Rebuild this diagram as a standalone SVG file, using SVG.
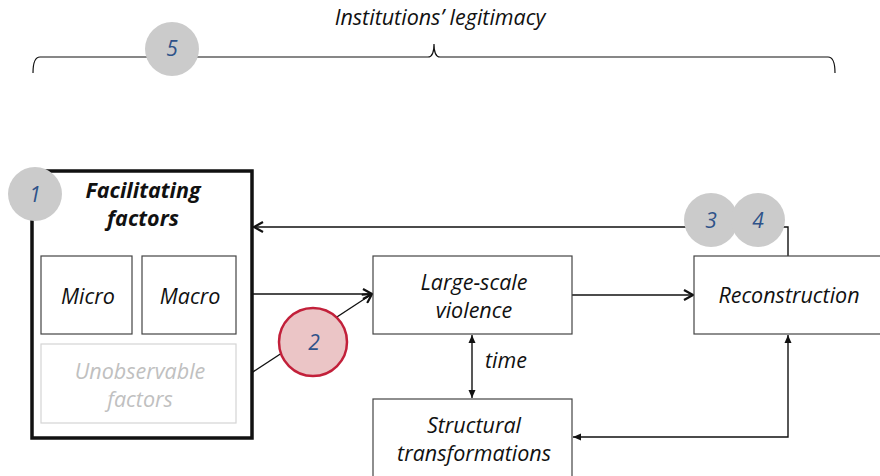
<svg xmlns="http://www.w3.org/2000/svg" width="880" height="476" viewBox="0 0 880 476">
<defs>
<style>
text{font-family:"Open Sans",Lato,"DejaVu Sans",sans-serif;font-style:italic;font-weight:400;text-anchor:middle;fill:#111}
.lbl{font-size:21.5px}
.num{font-size:21px;fill:#2e5289}
.gray{fill:#c0c0c0}
.bold{font-weight:bold}
.box{fill:#fff;stroke:#444;stroke-width:1.2}
.conn{fill:none;stroke:#111;stroke-width:1.4}
.badge{fill:#cbcbcb}
</style>
<marker id="open" viewBox="0 0 12 12" refX="11" refY="6" markerWidth="12" markerHeight="12" markerUnits="userSpaceOnUse" orient="auto">
<path d="M2,1 L11,6 L2,11" fill="none" stroke="#111" stroke-width="2.2"/>
</marker>
<marker id="fill" viewBox="0 0 8 8" refX="8" refY="4" markerWidth="8" markerHeight="8" markerUnits="userSpaceOnUse" orient="auto-start-reverse">
<path d="M0,0.5 L8,4 L0,7.5 Z" fill="#111"/>
</marker>
</defs>
<rect width="880" height="476" fill="#fff"/>

<g id="legitimacy">
<text class="lbl" x="440" y="25">Institutions’ legitimacy</text>
<path d="M33,73 Q33,57 40,57 L428,57 Q434,57 434,44 Q434,57 440,57 L828,57 Q835,57 835,73" fill="none" stroke="#111" stroke-width="1.2"/>
<circle class="badge" cx="172" cy="49" r="27"/>
<text class="num" x="172" y="56">5</text>
</g>

<g id="connectors">
<line class="conn" x1="252" y1="294" x2="372" y2="294" marker-end="url(#open)"/>
<line class="conn" x1="236" y1="383" x2="372" y2="294" marker-end="url(#open)"/>
<line class="conn" x1="572" y1="295" x2="693" y2="295" marker-end="url(#open)"/>
<polyline class="conn" points="788,256 788,227 254,227" marker-end="url(#open)"/>
<line class="conn" x1="472" y1="335" x2="472" y2="398" marker-start="url(#fill)" marker-end="url(#fill)"/>
<polyline class="conn" points="788,335 788,437 573,437" marker-start="url(#fill)" marker-end="url(#fill)"/>
<text class="lbl" x="506" y="368">time</text>
</g>

<g id="facilitating">
<rect x="32" y="171" width="220" height="267" fill="#fff" stroke="#111" stroke-width="3.5"/>
<text class="lbl bold" x="143" y="198">Facilitating</text>
<text class="lbl bold" x="143" y="226">factors</text>
<circle class="badge" cx="35" cy="194" r="27"/>
<text class="num" x="35" y="202">1</text>
</g>

<g id="micro">
<rect class="box" x="41" y="256" width="91" height="78"/>
<text class="lbl" x="88" y="304">Micro</text>
</g>

<g id="macro">
<rect class="box" x="142" y="256" width="94" height="78"/>
<text class="lbl" x="190" y="304">Macro</text>
</g>

<g id="unobservable">
<rect x="41" y="344" width="195" height="79" fill="#fff" stroke="#d4d4d4" stroke-width="1.2"/>
<text class="lbl gray" x="140" y="379">Unobservable</text>
<text class="lbl gray" x="140" y="407">factors</text>
</g>

<g id="badge2">
<circle cx="313" cy="342" r="34" fill="#ebc5c6" stroke="#c2203a" stroke-width="2.5"/>
<text class="num" x="314" y="350">2</text>
</g>

<g id="violence">
<rect class="box" x="373" y="256" width="199" height="78"/>
<text class="lbl" x="474" y="290">Large-scale</text>
<text class="lbl" x="474" y="318">violence</text>
</g>

<g id="reconstruction">
<rect class="box" x="694" y="256" width="200" height="78"/>
<text class="lbl" x="789" y="303">Reconstruction</text>
</g>

<g id="badges34">
<circle class="badge" cx="711" cy="220" r="27"/>
<circle class="badge" cx="758" cy="220" r="27"/>
<text class="num" x="711" y="228">3</text>
<text class="num" x="758" y="228">4</text>
</g>

<g id="structural">
<rect class="box" x="373" y="399" width="199" height="90"/>
<text class="lbl" x="474" y="433">Structural</text>
<text class="lbl" x="474" y="461">transformations</text>
</g>
</svg>
